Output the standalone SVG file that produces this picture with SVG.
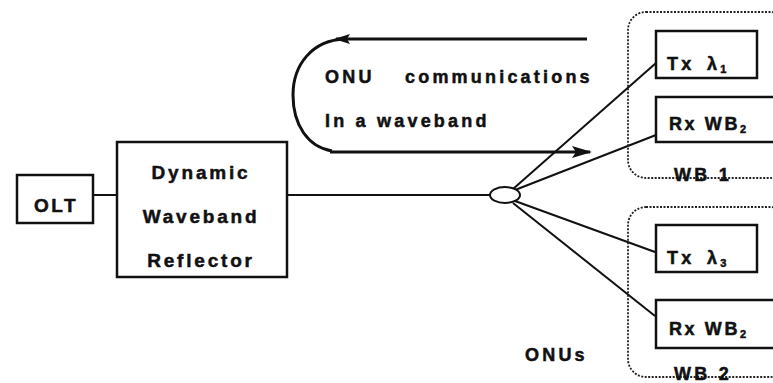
<svg xmlns="http://www.w3.org/2000/svg" width="773" height="383" viewBox="0 0 773 383">
<style>
.box{fill:#fff;stroke:#111;stroke-width:2.5}
.grp{fill:none;stroke:#222;stroke-width:1.8;stroke-dasharray:2 1.5}
.t{font-family:"Liberation Sans",Arial,sans-serif;font-weight:bold;fill:#111;stroke:#111;stroke-width:0.5;font-size:18px;letter-spacing:3.2px}
.c{stroke:#111;stroke-width:2;fill:none}
.a{stroke:#111;stroke-width:3;fill:none}
</style>
<defs>
<marker id="ah" viewBox="0 0 20 12" refX="18" refY="6" markerWidth="20" markerHeight="12" markerUnits="userSpaceOnUse" orient="auto">
<path d="M0 0 L20 6 L0 12 L4 6 Z" fill="#111"/>
</marker>
<marker id="ah2" viewBox="0 0 16 10" refX="14" refY="5" markerWidth="16" markerHeight="10" markerUnits="userSpaceOnUse" orient="auto">
<path d="M0 0 L16 5 L0 10 L3 5 Z" fill="#111"/>
</marker>
</defs>
<rect width="773" height="383" fill="#fff"/>
<g id="connectors">
<line class="c" x1="93" y1="195" x2="117" y2="195"/>
<line class="c" x1="287" y1="195" x2="490" y2="195"/>
<line class="c" x1="513" y1="189" x2="656" y2="63"/>
<line class="c" x1="515" y1="190" x2="656" y2="135"/>
<line class="c" x1="515" y1="201" x2="655" y2="252"/>
<line class="c" x1="513" y1="203" x2="655" y2="316"/>
<path class="a" d="M587 39 L336 39" marker-end="url(#ah2)"/>
<path class="a" d="M345 39 C312 40 293 65 293 95 C293 125 308 147 332 151"/>
<path class="a" d="M330 152 L590 152" marker-end="url(#ah)"/>
</g>
<g id="splitter">
<ellipse cx="505" cy="195" rx="15" ry="8" fill="#fff" stroke="#111" stroke-width="2"/>
</g>
<g id="olt">
<rect class="box" x="17" y="175" width="76" height="48"/>
<text class="t" x="56" y="212" text-anchor="middle" style="font-size:19px;letter-spacing:2.5px">OLT</text>
</g>
<g id="dwr">
<rect class="box" x="117" y="142" width="170" height="135"/>
<text class="t" x="201" y="179" text-anchor="middle" style="font-size:19px;letter-spacing:2.8px">Dynamic</text>
<text class="t" x="201" y="223" text-anchor="middle" style="font-size:19px;letter-spacing:2.8px">Waveband</text>
<text class="t" x="201" y="267" text-anchor="middle" style="font-size:19px;letter-spacing:2.8px">Reflector</text>
</g>
<g id="label">
<text class="t" x="325" y="83">ONU</text>
<text class="t" x="405" y="83">communications</text>
<text class="t" x="325" y="127">In a waveband</text>
</g>
<g id="wb1">
<rect class="grp" x="628" y="12" width="160" height="166" rx="18"/>
<text class="t" x="703" y="181" text-anchor="middle">WB 1</text>
</g>
<g id="tx1">
<rect class="box" x="656" y="31" width="101" height="47"/>
<text class="t" x="667" y="70">Tx</text>
<text class="t" x="707" y="70">λ<tspan font-size="11" dy="3">1</tspan></text>
</g>
<g id="rx1">
<rect class="box" x="656" y="97" width="130" height="45"/>
<text class="t" x="669" y="130" style="letter-spacing:2.6px">Rx WB<tspan font-size="11" dy="3">2</tspan></text>
</g>
<g id="wb2">
<rect class="grp" x="628" y="207" width="160" height="170" rx="18"/>
<text class="t" x="703" y="380" text-anchor="middle">WB 2</text>
</g>
<g id="tx3">
<rect class="box" x="656" y="225" width="101" height="47"/>
<text class="t" x="667" y="264">Tx</text>
<text class="t" x="707" y="264">λ<tspan font-size="11" dy="3">3</tspan></text>
</g>
<g id="rx2">
<rect class="box" x="656" y="300" width="130" height="48"/>
<text class="t" x="669" y="335" style="letter-spacing:2.6px">Rx WB<tspan font-size="11" dy="3">2</tspan></text>
</g>
<g id="onus">
<text class="t" x="525" y="361">ONUs</text>
</g>
</svg>
